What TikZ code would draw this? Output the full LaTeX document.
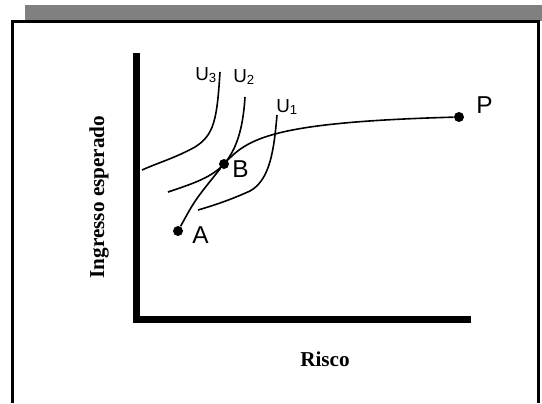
\documentclass[tikz,border=0pt]{standalone}
\usepackage{fontspec}
\setmainfont{Liberation Serif}
\newfontfamily\labelfont{Liberation Sans}
\definecolor{BarGray}{RGB}{128,128,128}

\begin{document}
\begin{tikzpicture}[x=0.5pt, y=-0.5pt,
		dot/.style={circle, fill, inner sep=0pt, minimum size=5pt},
		curve/.style={line width=0.8pt},
		pointlabel/.style={font=\labelfont\fontsize{12.2}{14}\selectfont, inner sep=0pt, anchor=base west},
		ulabel/.style={font=\labelfont\fontsize{9.4}{11}\selectfont, inner sep=0pt, anchor=base west},
		axislabel/.style={font=\bfseries\fontsize{10.6}{12}\selectfont, inner sep=0pt}]
	\useasboundingbox (0,0) rectangle (542,403);
	\fill[BarGray] (25,5) rectangle (542,21);
	\draw[line width=1.5pt] (12,403) -- (12,21) -- (538,21) -- (538,403);
	% axes
	\draw[line width=3.5pt] (136,53) -- (136,319.5) -- (471,319.5);
	\node[axislabel, rotate=90] (ylab) at (99,197) {Ingresso esperado};
	\node[axislabel] (xlab) at (325,359) {Risco};
	% indifference curves
	\draw[curve] (220,72) .. controls (217,120) and (214,135) .. (195,147)
		.. controls (175,158) and (160,162) .. (142,170);
	\draw[curve] (245,97) .. controls (243,130) and (236,150) .. (224,164)
		.. controls (212,177) and (195,183) .. (168,192);
	\draw[curve] (277,115) .. controls (274,150) and (270,180) .. (250,191)
		.. controls (230,200) and (215,205) .. (198,210);
	\node[ulabel] (u3) at (195,80) {U\textsubscript{3}};
	\node[ulabel] (u2) at (233,82) {U\textsubscript{2}};
	\node[ulabel] (u1) at (276,112) {U\textsubscript{1}};
	% portfolio line
	\node[dot] (A) at (178,231) {};
	\node[dot] (B) at (224,164) {};
	\node[dot] (P) at (459,117) {};
	\draw[curve] (A) .. controls (195,200) .. (B)
		.. controls (250,137) and (280,122) .. (P);
	\node[pointlabel] (alab) at (192,243) {A};
	\node[pointlabel] (blab) at (232,177) {B};
	\node[pointlabel] (plab) at (476,113) {P};
\end{tikzpicture}
\end{document}
